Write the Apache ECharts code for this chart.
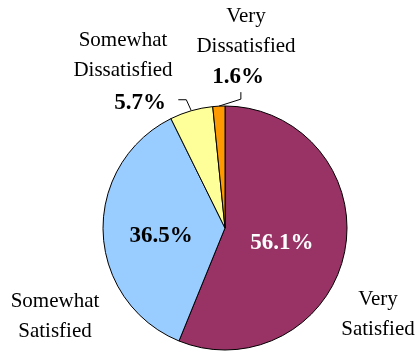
<!DOCTYPE html>
<html>
<head>
<meta charset="utf-8">
<script src="https://cdn.jsdelivr.net/npm/echarts@6/dist/echarts.min.js"></script>
<style>
  html, body { margin: 0; padding: 0; background: #fff; }
  #chart { width: 415px; height: 353px; }
</style>
</head>
<body>
<div id="chart"></div>
<script>
// Satisfaction survey shares (percent)
const categories = ['Very Satisfied', 'Somewhat Satisfied', 'Somewhat Dissatisfied', 'Very Dissatisfied'];
const shares = [56.1, 36.5, 5.7, 1.6];
const sliceColors = ['#993366', '#99CCFF', '#FFFF99', '#FF9900'];

const serif = '"Liberation Serif", "Times New Roman", serif';
const center = [225, 228];
const radius = 122;

// Where the category names sit around the pie
const namePositions = [[378, 314], [55, 316], [123, 55], [246, 31]];

const pieData = categories.map((name, i) => ({
  name: name,
  value: shares[i],
  itemStyle: { color: sliceColors[i] }
}));

const pctLabel = (i) => {
  if (i === 0) return { show: true, position: 'inside', color: '#fff' };
  if (i === 1) return { show: true, position: 'inside', color: '#000' };
  return { show: true, position: 'outside', color: '#000' };
};

const chart = echarts.init(document.getElementById('chart'), null, { renderer: 'canvas' });
chart.setOption({
  backgroundColor: '#fff',
  animation: false,
  series: [
    {
      type: 'pie',
      center: center,
      radius: radius,
      startAngle: 90,
      clockwise: true,
      avoidLabelOverlap: false,
      itemStyle: { borderColor: '#000', borderWidth: 1 },
      label: {
        fontFamily: serif,
        fontWeight: 'bold',
        fontSize: 23,
        formatter: (p) => p.value.toFixed(1) + '%'
      },
      labelLine: { show: true, length: 10, length2: 8, lineStyle: { color: '#000', width: 1 } },
      emphasis: { disabled: true },
      data: pieData.map((d, i) => Object.assign({}, d, {
        label: pctLabel(i),
        labelLine: { show: i >= 2 }
      })),
      labelLayout: function (p) {
        const s = p.labelLinePoints && p.labelLinePoints[0];
        if (p.dataIndex === 0) return { dx: -6, dy: 3 };
        if (p.dataIndex === 1) return { dy: 6 };
        if (p.dataIndex === 2 && s) {
          return {
            x: 140, y: 103, align: 'center', verticalAlign: 'middle',
            labelLinePoints: [s, [s[0] - 5, s[1] - 11], [s[0] - 13, s[1] - 11]]
          };
        }
        if (p.dataIndex === 3 && s) {
          return {
            x: 238, y: 77, align: 'center', verticalAlign: 'middle',
            labelLinePoints: [s, [s[0] + 22, s[1] - 7], [s[0] + 22, s[1] - 14]]
          };
        }
        return {};
      }
    },
    {
      // Category names, laid over the same slices
      type: 'pie',
      center: center,
      radius: radius,
      startAngle: 90,
      clockwise: true,
      silent: true,
      avoidLabelOverlap: false,
      itemStyle: { color: 'transparent', borderWidth: 0 },
      label: {
        show: true,
        position: 'outside',
        fontFamily: serif,
        fontSize: 21,
        lineHeight: 30,
        color: '#000',
        formatter: (p) => p.name.replace(' ', '\n')
      },
      labelLine: { show: false },
      emphasis: { disabled: true },
      data: categories.map((name, i) => ({ name: name, value: shares[i] })),
      labelLayout: function (p) {
        const pos = namePositions[p.dataIndex];
        return { x: pos[0], y: pos[1], align: 'center', verticalAlign: 'middle' };
      }
    }
  ]
});
</script>
</body>
</html>
